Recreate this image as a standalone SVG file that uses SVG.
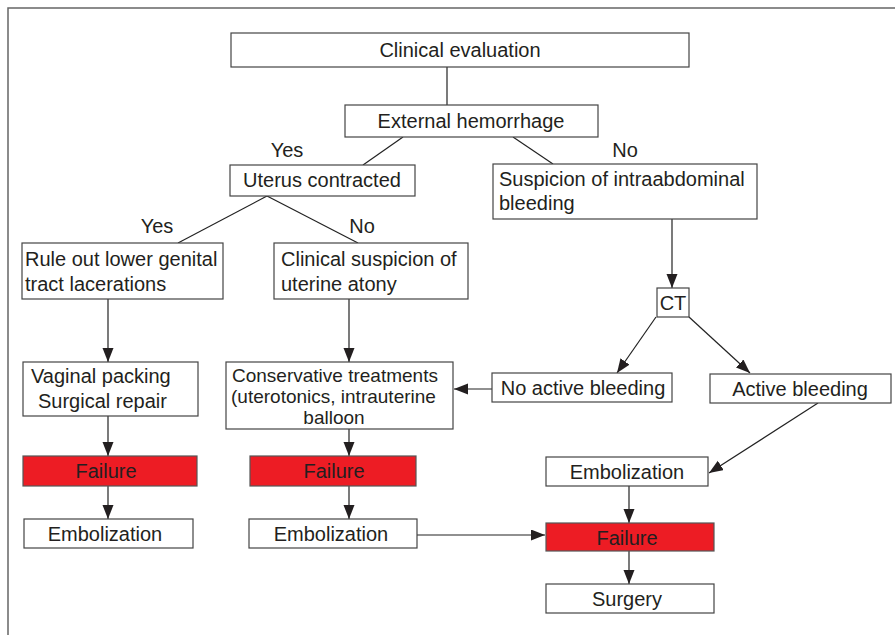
<svg xmlns="http://www.w3.org/2000/svg" width="895" height="635" viewBox="0 0 895 635">
<style>
.box{fill:#fff;stroke:#444;stroke-width:1.2}
.red{fill:#ED1C24;stroke:#555;stroke-width:1.2}
.t{font-family:"Liberation Sans",Arial,sans-serif;font-size:20px;fill:#231F20}
.s{font-size:19px}
.c{text-anchor:middle}
.ln{stroke:#222;stroke-width:1.2;fill:none}
</style>
<defs>
<marker id="ah" markerUnits="userSpaceOnUse" markerWidth="15" markerHeight="12" refX="14" refY="5.5" orient="auto">
<path d="M0,0 L14,5.5 L0,11 z" fill="#231F20"/>
</marker>
</defs>
<rect x="8" y="8" width="900" height="640" fill="#fff" stroke="#666" stroke-width="1.5"/>

<g id="connectors">
<line class="ln" x1="447" y1="67" x2="447" y2="105"/>
<line class="ln" x1="403" y1="137" x2="363" y2="165"/>
<line class="ln" x1="513" y1="137" x2="553" y2="164"/>
<line class="ln" x1="267" y1="196" x2="178" y2="243"/>
<line class="ln" x1="267" y1="196" x2="358" y2="243"/>
<line class="ln" x1="672" y1="219" x2="672" y2="288" marker-end="url(#ah)"/>
<line class="ln" x1="656" y1="317" x2="617" y2="373" marker-end="url(#ah)"/>
<line class="ln" x1="689" y1="317" x2="750" y2="373" marker-end="url(#ah)"/>
<line class="ln" x1="108" y1="299" x2="108" y2="362" marker-end="url(#ah)"/>
<line class="ln" x1="349" y1="299" x2="349" y2="362" marker-end="url(#ah)"/>
<line class="ln" x1="108" y1="416" x2="108" y2="456" marker-end="url(#ah)"/>
<line class="ln" x1="349" y1="429" x2="349" y2="456" marker-end="url(#ah)"/>
<line class="ln" x1="108" y1="486" x2="108" y2="519" marker-end="url(#ah)"/>
<line class="ln" x1="349" y1="486" x2="349" y2="519" marker-end="url(#ah)"/>
<line class="ln" x1="492" y1="389" x2="454" y2="389" marker-end="url(#ah)"/>
<line class="ln" x1="818" y1="403" x2="709" y2="473" marker-end="url(#ah)"/>
<line class="ln" x1="417" y1="535" x2="545" y2="535" marker-end="url(#ah)"/>
<line class="ln" x1="629" y1="486" x2="629" y2="523" marker-end="url(#ah)"/>
<line class="ln" x1="629" y1="551" x2="629" y2="584" marker-end="url(#ah)"/>
</g>

<g id="labels">
<text class="t c" x="287" y="157">Yes</text>
<text class="t c" x="625" y="157">No</text>
<text class="t c" x="157" y="233">Yes</text>
<text class="t c" x="362" y="233">No</text>
</g>

<g id="clinical-evaluation"><rect class="box" x="231" y="33" width="458" height="34"/><text class="t c" x="460" y="57">Clinical evaluation</text></g>
<g id="external-hemorrhage"><rect class="box" x="345" y="105" width="253" height="32"/><text class="t c" x="471" y="128">External hemorrhage</text></g>
<g id="uterus-contracted"><rect class="box" x="230" y="165" width="185" height="31"/><text class="t c" x="322" y="187">Uterus contracted</text></g>
<g id="suspicion-intraabdominal"><rect class="box" x="493" y="164" width="264" height="55"/><text class="t" x="499" y="186">Suspicion of intraabdominal</text><text class="t" x="499" y="210">bleeding</text></g>
<g id="rule-out"><rect class="box" x="22" y="243" width="201" height="56"/><text class="t" x="25" y="266">Rule out lower genital</text><text class="t" x="25" y="291">tract lacerations</text></g>
<g id="uterine-atony"><rect class="box" x="274" y="243" width="194" height="56"/><text class="t" x="281" y="266">Clinical suspicion of</text><text class="t" x="281" y="291">uterine atony</text></g>
<g id="ct"><rect class="box" x="657" y="288" width="32" height="29"/><text class="t c" x="673" y="310">CT</text></g>
<g id="vaginal-packing"><rect class="box" x="23" y="362" width="175" height="54"/><text class="t" x="31" y="383">Vaginal packing</text><text class="t" x="38" y="408">Surgical repair</text></g>
<g id="conservative"><rect class="box" x="226" y="362" width="227" height="67"/><text class="t s" x="232" y="382">Conservative treatments</text><text class="t s" x="231" y="403">(uterotonics, intrauterine</text><text class="t s c" x="334" y="424">balloon</text></g>
<g id="no-active-bleeding"><rect class="box" x="492" y="373" width="180" height="29"/><text class="t c" x="583" y="395">No active bleeding</text></g>
<g id="active-bleeding"><rect class="box" x="710" y="374" width="181" height="29"/><text class="t c" x="800" y="396">Active bleeding</text></g>
<g id="failure-1"><rect class="red" x="23" y="456" width="174" height="30"/><text class="t c" x="106" y="478">Failure</text></g>
<g id="failure-2"><rect class="red" x="250" y="456" width="166" height="30"/><text class="t c" x="334" y="478">Failure</text></g>
<g id="embolization-1"><rect class="box" x="24" y="519" width="169" height="29"/><text class="t c" x="105" y="541">Embolization</text></g>
<g id="embolization-2"><rect class="box" x="249" y="519" width="168" height="29"/><text class="t c" x="331" y="541">Embolization</text></g>
<g id="embolization-3"><rect class="box" x="546" y="457" width="162" height="29"/><text class="t c" x="627" y="479">Embolization</text></g>
<g id="failure-3"><rect class="red" x="546" y="523" width="168" height="28"/><text class="t c" x="627" y="545">Failure</text></g>
<g id="surgery"><rect class="box" x="546" y="584" width="168" height="29"/><text class="t c" x="627" y="606">Surgery</text></g>
</svg>
